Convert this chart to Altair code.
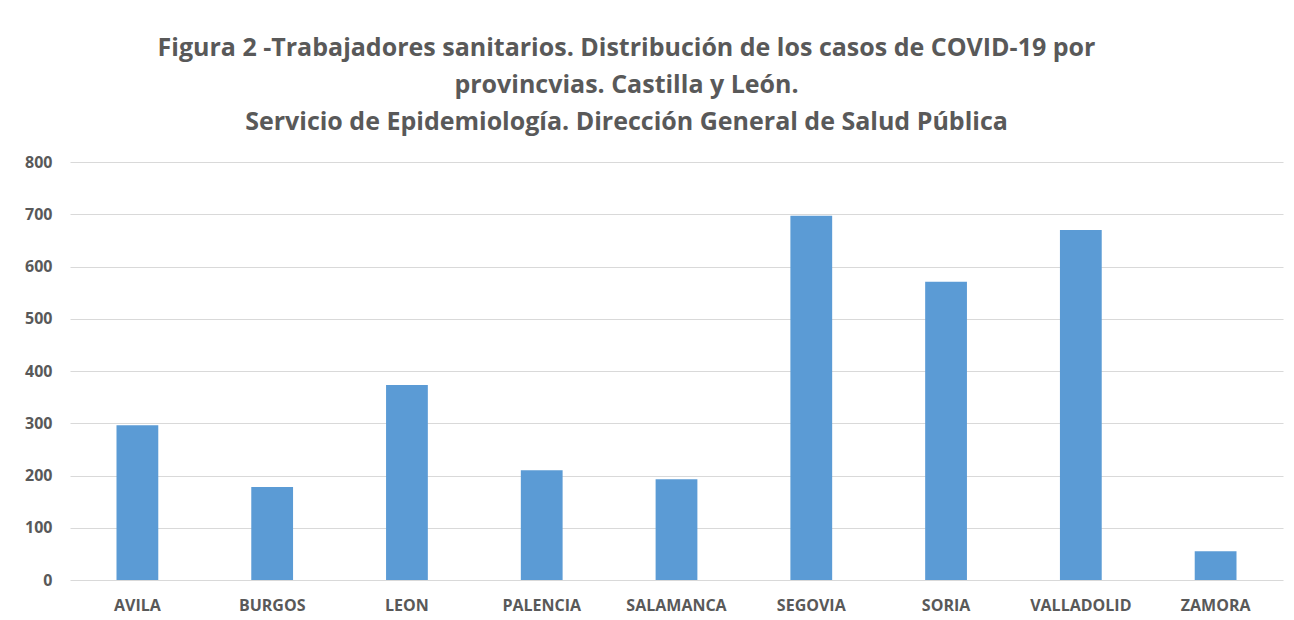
import altair as alt
import pandas as pd

provincias = ["AVILA", "BURGOS", "LEON", "PALENCIA", "SALAMANCA", "SEGOVIA", "SORIA", "VALLADOLID", "ZAMORA"]
casos = [296, 178, 373, 210, 193, 697, 571, 670, 55]
titulo = [
    "Figura 2 -Trabajadores sanitarios. Distribución de los casos de COVID-19 por",
    "provincvias. Castilla y León.",
    "Servicio de Epidemiología. Dirección General de Salud Pública",
]

df = pd.DataFrame({"provincia": provincias, "casos": casos})

FONT = "Open Sans"

chart = alt.Chart(df).mark_bar(color="#5B9BD5").encode(
    x=alt.X("provincia:N", sort=provincias, title=None,
            scale=alt.Scale(paddingInner=0.69, paddingOuter=0.345),
            axis=alt.Axis(labelAngle=0, ticks=False, domain=False, labelPadding=17,
                          labelFont=FONT, labelFontWeight="bold", labelFontSize=16,
                          labelColor="#595959", grid=False)),
    y=alt.Y("casos:Q", title=None,
            scale=alt.Scale(domain=[0, 800]),
            axis=alt.Axis(values=list(range(0, 801, 100)), ticks=False, domain=False,
                          labelPadding=18, gridColor="#D9D9D9", gridWidth=1,
                          labelFont=FONT, labelFontWeight="bold", labelFontSize=16,
                          labelColor="#595959")),
).properties(
    width=1213,
    height=418,
    title=alt.TitleParams(text=titulo, font=FONT, fontSize=25, fontWeight="bold",
                          color="#595959", anchor="middle", dx=-50, offset=19,
                          lineHeight=37),
    autosize=alt.AutoSizeParams(type="none"),
    padding={"left": 62, "top": 154, "right": 3, "bottom": 38},
).configure(background="white").configure_view(stroke=None)

chart.save("out.html", embed_options={"renderer": "svg", "actions": False})
